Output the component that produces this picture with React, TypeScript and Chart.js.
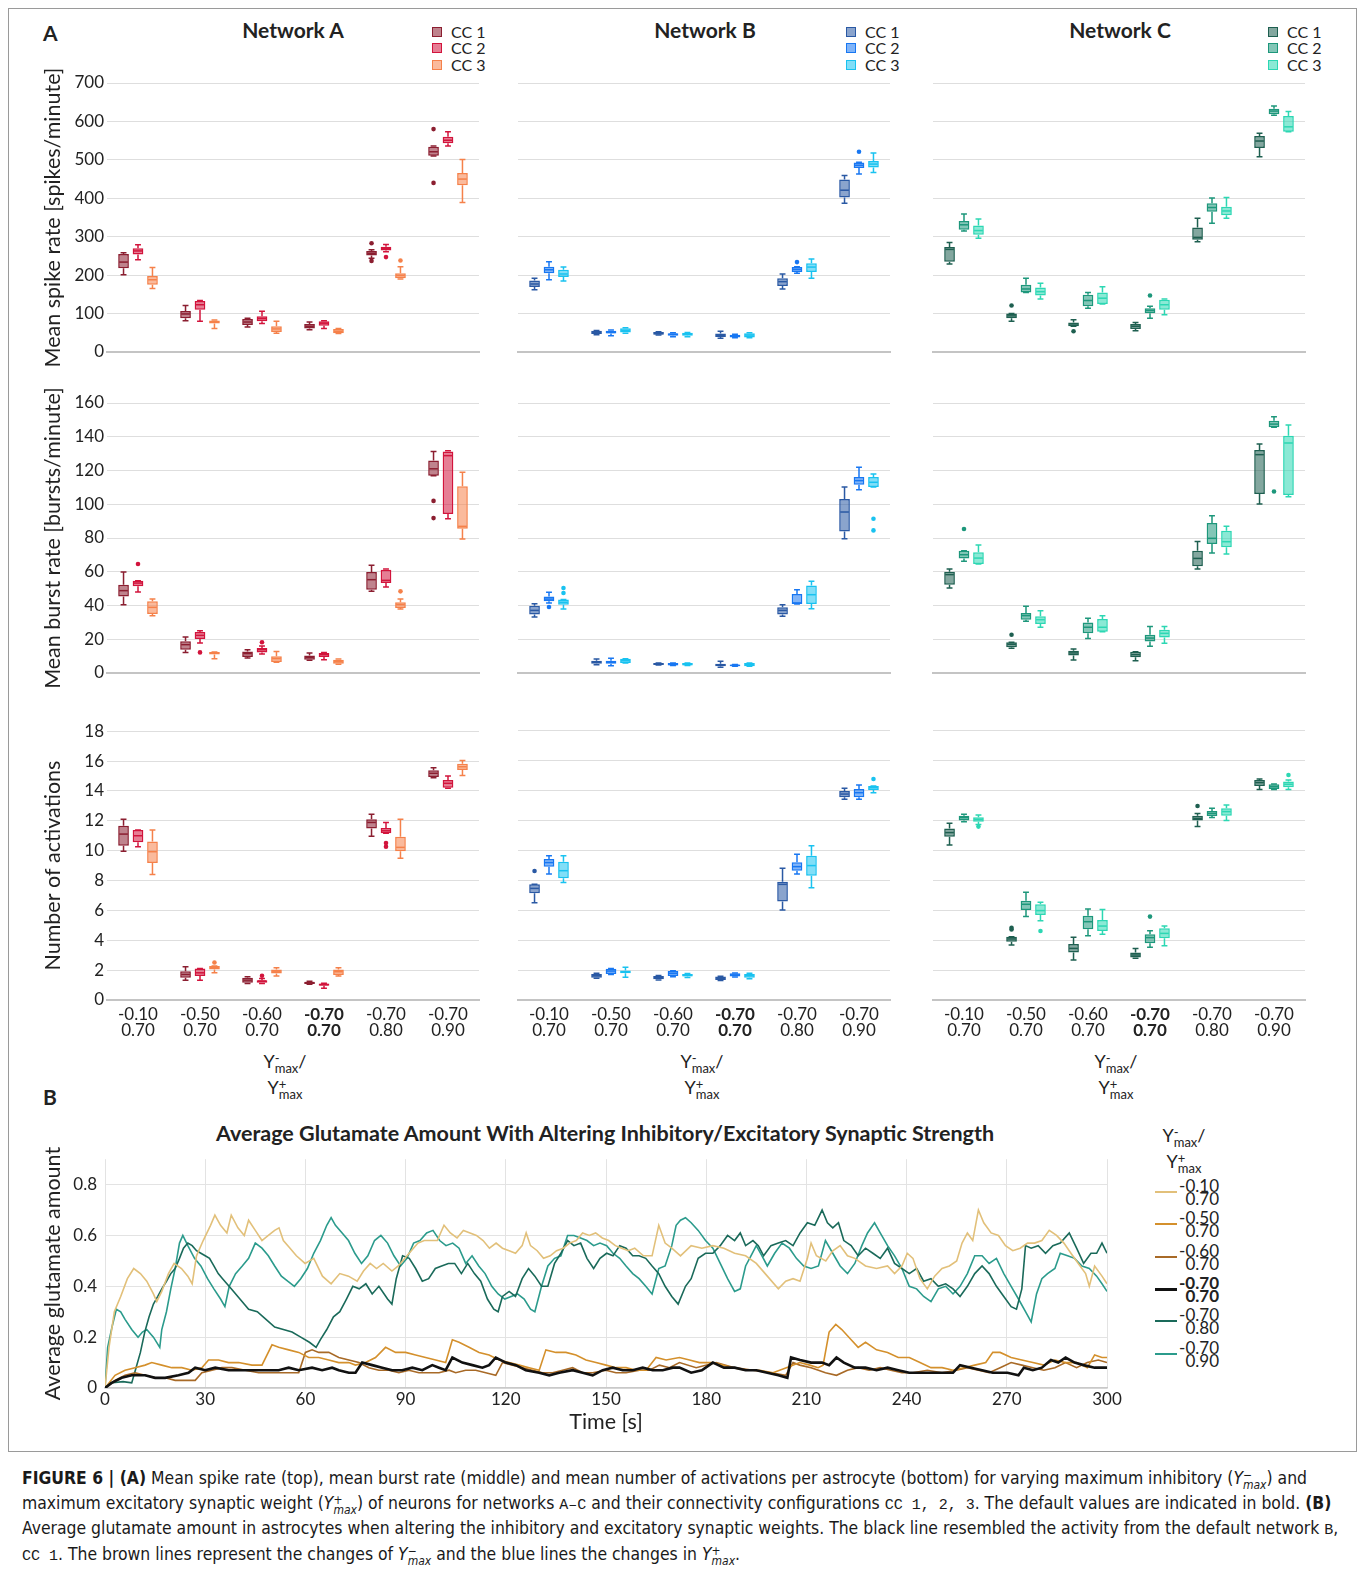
import React, { useEffect, useRef } from "react";
import { Chart, registerables } from "chart.js";

Chart.register(...registerables);

const FONT = "Lato, 'Open Sans', 'DejaVu Sans', sans-serif";
const TXT = "#222222";
const CAP_FONT = "'Liberation Sans Narrow', 'Arial Narrow', 'DejaVu Sans Condensed', sans-serif";
const MONO = "'Liberation Mono', 'DejaVu Sans Mono', monospace";

// ---------- categories / labels ----------
const groupLabels = [["-0.10", "0.70"], ["-0.50", "0.70"], ["-0.60", "0.70"], ["-0.70", "0.70"], ["-0.70", "0.80"], ["-0.70", "0.90"]];
const boldGroup = 3;
const ccNames = ["CC 1", "CC 2", "CC 3"];
const networkNames = ["Network A", "Network B", "Network C"];
const rowTitles = ["Mean spike rate [spikes/minute]", "Mean burst rate [bursts/minute]", "Number of activations"];
const rowMax = [700, 160, 18];
const rowStep = [100, 20, 2];

// ---------- box data: [min, q1, median, q3, max, outliers] ----------
const spikeA_CC1 = [[201,218,234,255,258],[81,88,99,107,121],[65,70,78,86,88],[58,61,67,73,78],[244,251,257,263,266,[283,237]],[510,511,521,534,536,[580,440]]];
const spikeA_CC2 = [[240,254,263,270,279],[80,110,123,133,134],[74,80,87,93,106],[61,68,75,80,81],[261,264,269,274,280,[247]],[536,543,551,560,573]];
const spikeA_CC3 = [[165,175,188,198,220],[61,74,78,82,83],[49,52,60,67,80],[48,49,54,60,61],[190,192,199,205,222,[238]],[389,434,450,466,501]];

const spikeB_CC1 = [[162,169,177,186,192],[45,47,51,55,56],[44,45,48,52,53],[36,39,43,48,54],[164,172,183,192,203],[387,402,421,449,459]];
const spikeB_CC2 = [[188,205,214,222,235],[42,48,51,55,57],[40,42,46,49,50],[37,38,42,45,46],[205,208,215,221,222,[234]],[463,479,486,493,494,[521]]];
const spikeB_CC3 = [[185,195,203,214,221],[49,51,56,62,63],[40,42,46,50,51],[37,38,44,49,50],[192,208,221,231,242],[467,480,489,497,518]];

const spikeC_CC1 = [[229,235,267,273,285],[80,88,94,100,100,[121]],[67,67,73,77,84,[54]],[55,60,67,73,77],[287,292,298,324,348],[508,531,549,562,569]];
const spikeC_CC2 = [[315,318,331,341,359],[155,155,164,175,192],[114,119,134,149,155],[88,101,108,114,119,[147]],[335,365,376,387,401],[616,619,627,633,640]];
const spikeC_CC3 = [[296,305,316,329,346],[138,147,157,168,179],[125,125,140,155,170],[97,110,123,136,138],[348,356,367,378,402],[573,573,586,614,626]];

const burstA_CC1 = [[40.5,45.4,48.8,52.3,59.8],[12.2,13.8,16.8,18.8,21.3],[8.9,9.5,11.5,12.8,13.8],[7.5,7.9,9.3,10.3,11.9],[48.4,49.4,55.3,59.8,63.8],[116.9,116.9,121,126,131.3,[102,91.8]]];
const burstA_CC2 = [[48,51.4,53.3,54.7,54.7,[64.6]],[17.8,20.1,22.3,24.3,25,[12.2]],[11.3,12.2,13.8,14.8,16,[18.2]],[7.9,9.5,10.9,11.9,12.2],[51,53.3,54.9,61.2,61.6],[91.4,94.2,128.8,131.3,131.7]];
const burstA_CC3 = [[34,35,38.9,42.5,43.8],[8.5,10.9,11.9,12.4,12.4],[6.3,6.5,8.5,9.9,12.8],[5.2,5.5,6.7,7.9,8.3],[37.9,38.5,40.5,42,43.8,[48.4]],[79.4,85.5,86.9,110.6,118.9]];

const burstB_CC1 = [[33.2,34.6,37.1,39.9,41.1],[4.9,5.5,6.5,7.3,8.3],[4.7,4.7,5.3,5.9,5.9],[3.4,4,4.7,5.5,6.9],[33.6,34.6,37.1,38.9,40.5],[79.6,83.9,95.4,103.1,110.2]];
const burstB_CC2 = [[41.5,42.5,43.8,45.4,47.8,[39.1]],[4.3,5.5,6.5,7.3,8.7],[4.4,4.4,5.1,6,6],[4,4,4.5,5.1,5.1],[40.9,40.9,41.5,46.8,49.4],[108.6,111.6,114,116.1,122]];
const burstB_CC3 = [[37.9,40.5,41.9,43.5,43.5,[50.4,47.4]],[5.9,5.9,7.3,8.5,8.5],[4.4,4.4,5.1,6,6],[4,4,4.9,5.9,5.9],[38.1,40.9,46.4,51.8,54.3],[110.2,110.2,113,116.1,117.9,[91.4,84.5]]];

const burstC_CC1 = [[50.4,52.3,58.3,60,61.6],[14.6,15.2,17,18.2,18.2,[22.7]],[7.7,10.3,11.9,13.2,14.2],[7.3,9.3,10.9,12.6,12.6],[61.6,63.2,67.9,72.5,78],[100.1,106.1,129.4,132.1,135.7]];
const burstC_CC2 = [[66.2,67.9,70.1,72.5,72.5,[85.3]],[30.6,31.6,34,35.5,39.5],[20.5,23.5,27.1,30,32.4],[15.8,18.6,20.7,22.7,27.5],[71.1,76.4,79.8,88.9,93.2],[145.6,145.6,147.5,149.5,151.9,[107.6]]];
const burstC_CC3 = [[64.6,64.6,68.1,71.5,75.8],[27.1,29,31.6,33.6,36.9],[24.5,24.5,27.1,32,34],[17.6,21.1,23.5,25.7,27.5],[70.5,74.5,77.8,84.3,86.9],[104.5,105.5,136.3,140.6,147]];

const actA_CC1 = [[9.96,10.33,11.11,11.67,12.1],[1.33,1.49,1.71,1.93,2.22],[1.1,1.16,1.33,1.49,1.55],[1.05,1.07,1.16,1.22,1.25],[10.96,11.49,11.89,12.11,12.44],[14.89,14.93,15.18,15.38,15.56]];
const actA_CC2 = [[10.27,10.56,11,11.38,11.38],[1.33,1.6,1.82,2.11,2.11],[1.1,1.16,1.27,1.33,1.44,[1.62]],[0.78,0.96,1.03,1.1,1.13],[11.16,11.16,11.33,11.51,11.89,[10.51,10.27]],[14.18,14.22,14.51,14.73,15]];
const actA_CC3 = [[8.4,9.18,9.93,10.62,11.38],[1.82,2.04,2.16,2.27,2.27,[2.51]],[1.6,1.78,1.93,2.04,2.16],[1.6,1.67,1.89,2.04,2.16],[9.49,9.96,10.22,10.93,12.11],[15.04,15.4,15.62,15.82,16.04]];

const actB_CC1 = [[6.49,7.11,7.44,7.71,7.71,[8.6]],[1.45,1.49,1.62,1.73,1.78],[1.33,1.38,1.49,1.6,1.64],[1.3,1.33,1.44,1.56,1.58],[6,6.56,7.71,7.89,8.78],[13.38,13.51,13.73,13.93,14.11]];
const actB_CC2 = [[8.4,8.89,9.16,9.4,9.62],[1.7,1.73,1.93,2.09,2.1],[1.55,1.6,1.78,1.93,1.95],[1.53,1.56,1.67,1.78,1.8],[8.4,8.62,8.89,9.18,9.71],[13.38,13.51,13.82,14.07,14.33]];
const actB_CC3 = [[7.84,8.11,8.62,9.22,9.62],[1.51,1.78,1.87,1.96,2.18],[1.5,1.56,1.64,1.73,1.76],[1.42,1.49,1.62,1.73,1.78],[7.49,8.29,8.96,9.62,10.29],[13.82,14,14.16,14.27,14.27,[14.73]]];

const actC_CC1 = [[10.33,10.89,11.16,11.44,11.78],[3.67,3.89,4.07,4.22,4.22,[4.82,4.7]],[2.67,3.16,3.44,3.73,4.18],[2.78,2.84,3,3.16,3.44],[11.56,11.96,12.11,12.29,12.44,[12.93]],[14.04,14.27,14.49,14.67,14.73]];
const actC_CC2 = [[11.89,11.96,12.16,12.29,12.38],[5.56,6,6.38,6.62,7.18],[4.29,4.71,5.22,5.62,6.07],[3.51,3.78,4.16,4.38,4.62,[5.56]],[12.16,12.27,12.44,12.6,12.78],[14.04,14.07,14.22,14.38,14.4]];
const actC_CC3 = [[11.7,11.89,12.04,12.18,12.33,[11.56]],[5.29,5.67,5.96,6.38,6.51,[4.6]],[4.38,4.6,4.93,5.33,6.04],[3.62,4.11,4.44,4.78,4.93],[11.96,12.29,12.56,12.78,13],[14.04,14.18,14.38,14.56,14.67,[15]]];

// ---------- glutamate time series: [time s, amount] ----------
const glu_m010_070 = [[0,0],[1.2,0.16],[2.8,0.3],[4.7,0.36],[6.7,0.43],[8.6,0.47],[10.6,0.45],[12.5,0.42],[14.5,0.37],[15.5,0.34],[17,0.38],[19,0.45],[20.7,0.49],[22.9,0.47],[24.8,0.44],[26.1,0.41],[27.4,0.52],[29.4,0.58],[31.6,0.64],[32.9,0.68],[34.6,0.64],[36.5,0.61],[37.8,0.68],[39.8,0.63],[41.7,0.6],[43,0.66],[45,0.62],[47,0.58],[48.9,0.6],[50.8,0.62],[52.1,0.63],[53.4,0.58],[55.4,0.55],[57.3,0.52],[59.9,0.49],[62.5,0.51],[65.1,0.44],[67.7,0.41],[70.3,0.45],[72.9,0.44],[75.5,0.42],[77.4,0.46],[79.4,0.49],[81.3,0.47],[83.3,0.49],[85.9,0.46],[87.8,0.48],[89.8,0.51],[91.7,0.54],[93.7,0.57],[95.6,0.58],[97.6,0.58],[99.5,0.58],[101.5,0.64],[103.4,0.61],[105.4,0.59],[107.3,0.62],[109.3,0.61],[111.2,0.6],[113.2,0.58],[115.1,0.55],[117.1,0.57],[119,0.55],[121,0.54],[122.9,0.53],[124.9,0.56],[126.1,0.61],[127.4,0.56],[129.4,0.54],[131.3,0.51],[133.3,0.52],[135.2,0.54],[137.2,0.55],[139.1,0.57],[141.1,0.58],[143,0.61],[145,0.6],[146.9,0.61],[148.9,0.59],[150.8,0.58],[152.8,0.56],[154.7,0.55],[156.7,0.54],[158.6,0.55],[161.2,0.52],[163.8,0.52],[165.8,0.64],[167.7,0.57],[169.7,0.55],[172.3,0.52],[175.5,0.56],[178.7,0.55],[182,0.56],[185.3,0.55],[188.5,0.53],[191.8,0.52],[195,0.49],[198.3,0.44],[201.6,0.39],[203.8,0.42],[206,0.43],[208.1,0.42],[210.3,0.51],[211.4,0.57],[213,0.52],[215.8,0.5],[217.9,0.54],[220.1,0.56],[222.3,0.52],[224.5,0.51],[227.7,0.48],[231,0.47],[234.3,0.48],[236.4,0.45],[238.6,0.48],[240.2,0.53],[241.9,0.51],[244,0.43],[246.2,0.39],[248.4,0.44],[250.6,0.47],[252.8,0.48],[255,0.5],[256.6,0.57],[258.2,0.61],[259.8,0.58],[261.5,0.7],[263.1,0.65],[265.3,0.61],[267.5,0.6],[269.6,0.56],[271.8,0.54],[274,0.55],[276.2,0.57],[278.3,0.57],[280.5,0.58],[282.7,0.62],[284.9,0.6],[287.1,0.57],[289.2,0.53],[291.4,0.49],[293.6,0.45],[294.7,0.4],[296.3,0.48],[298.5,0.44],[300,0.41]];
const glu_m050_070 = [[0,0],[3,0.05],[6,0.07],[9,0.08],[12,0.09],[14,0.1],[17,0.09],[20,0.08],[23,0.08],[26,0.07],[29,0.08],[31,0.11],[34,0.11],[37,0.1],[40,0.1],[44,0.09],[47,0.09],[50,0.17],[52,0.16],[55,0.15],[58,0.14],[61,0.12],[64,0.12],[67,0.11],[70,0.1],[73,0.1],[75,0.09],[78,0.1],[81,0.12],[84,0.16],[87,0.14],[90,0.14],[93,0.13],[96,0.12],[99,0.11],[102,0.1],[104,0.19],[106,0.18],[109,0.16],[112,0.14],[115,0.13],[118,0.11],[121,0.1],[124,0.09],[127,0.08],[130,0.07],[132,0.15],[135,0.14],[138,0.14],[141,0.13],[144,0.11],[147,0.1],[150,0.09],[153,0.08],[156,0.08],[159,0.07],[162,0.07],[165,0.12],[168,0.11],[172,0.12],[175,0.11],[178,0.1],[182,0.1],[185,0.09],[188,0.08],[192,0.07],[196,0.07],[200,0.06],[204,0.08],[208,0.1],[211,0.09],[213.5,0.08],[215,0.09],[216.8,0.22],[218.8,0.25],[220.6,0.23],[223.4,0.19],[225.5,0.16],[227.7,0.18],[231,0.15],[234.3,0.14],[237.5,0.12],[240.8,0.12],[244,0.1],[247.3,0.08],[250.6,0.08],[253.9,0.07],[257.1,0.08],[260.4,0.09],[263.7,0.1],[265.8,0.14],[268,0.14],[271.3,0.12],[274.5,0.11],[277.8,0.1],[281.1,0.09],[284.4,0.11],[287.6,0.1],[290.9,0.1],[294.1,0.08],[296.3,0.13],[298.5,0.12],[300,0.12]];
const glu_m060_070 = [[0,0],[3,0.03],[6,0.05],[9,0.06],[12,0.05],[15,0.04],[18,0.04],[21,0.03],[24,0.03],[27,0.03],[29,0.06],[32,0.07],[35,0.08],[38,0.08],[42,0.07],[46,0.06],[50,0.06],[54,0.06],[58,0.06],[60,0.14],[62,0.15],[64,0.14],[67,0.14],[70,0.12],[73,0.11],[76,0.1],[79,0.08],[82,0.07],[85,0.07],[88,0.06],[91,0.07],[94,0.06],[97,0.06],[100,0.06],[103,0.07],[105,0.06],[108,0.07],[111,0.07],[114,0.06],[117,0.05],[119,0.1],[122,0.09],[125,0.08],[128,0.07],[131,0.06],[134,0.06],[137,0.07],[140,0.08],[143,0.06],[146,0.06],[150,0.07],[153,0.06],[156,0.06],[160,0.07],[163,0.07],[166,0.09],[169,0.08],[172,0.1],[177,0.08],[183,0.1],[188.5,0.08],[194,0.07],[199.4,0.06],[203.8,0.05],[206,0.1],[208,0.09],[211.4,0.08],[213.6,0.07],[215.7,0.06],[219,0.05],[222.3,0.07],[225.5,0.08],[228.8,0.07],[232.1,0.08],[235.3,0.07],[238.6,0.06],[241.9,0.06],[246.2,0.07],[250.6,0.06],[254.9,0.07],[258.2,0.08],[261.5,0.07],[264.7,0.06],[268,0.08],[271.3,0.1],[274.5,0.09],[277.8,0.08],[281.1,0.07],[284.4,0.08],[287.6,0.1],[290.9,0.08],[294.1,0.1],[297.4,0.11],[300,0.1]];
const glu_m070_070 = [[0,0],[2,0.02],[5,0.04],[8,0.05],[12,0.05],[15,0.04],[18,0.04],[22,0.05],[25,0.06],[27,0.08],[30,0.07],[33,0.08],[37,0.07],[40,0.07],[44,0.07],[48,0.07],[52,0.07],[55,0.08],[58,0.07],[62,0.08],[65,0.07],[68,0.08],[70,0.07],[73,0.06],[75,0.06],[77,0.1],[80,0.09],[83,0.08],[86,0.07],[89,0.07],[92,0.08],[95,0.07],[98,0.09],[100,0.08],[102,0.07],[104,0.12],[107,0.1],[110,0.09],[113,0.08],[115,0.09],[117,0.12],[120,0.1],[123,0.09],[126,0.07],[130,0.06],[133,0.05],[136,0.06],[140,0.07],[143,0.06],[146,0.05],[149,0.07],[152,0.08],[155,0.07],[158,0.07],[161,0.08],[164,0.07],[167,0.07],[170,0.08],[172,0.08],[175.5,0.06],[178.7,0.07],[182,0.1],[185.3,0.08],[188.5,0.08],[191.8,0.07],[195,0.07],[198.3,0.06],[201.6,0.05],[204.3,0.04],[205.4,0.12],[208.1,0.11],[211.4,0.1],[214.7,0.1],[216.8,0.09],[219,0.12],[221.2,0.1],[224.5,0.08],[227.7,0.08],[231,0.07],[234.3,0.08],[237.5,0.07],[240.8,0.06],[244,0.06],[247.3,0.06],[250.6,0.06],[253.9,0.06],[256,0.09],[259.3,0.08],[262.6,0.07],[265.8,0.06],[270.2,0.06],[273.5,0.05],[275.1,0.08],[277.8,0.07],[280.5,0.08],[283.2,0.11],[285.4,0.1],[287.6,0.12],[290.3,0.1],[293,0.09],[296.3,0.08],[298.5,0.08],[300,0.08]];
const glu_m070_080 = [[0,0],[1.5,0.02],[5.4,0.025],[8,0.02],[9.3,0.08],[10.6,0.14],[11.9,0.22],[13.2,0.28],[14.5,0.33],[15.8,0.36],[17,0.39],[18.4,0.42],[19.7,0.45],[21,0.47],[22.3,0.51],[23.5,0.55],[24.8,0.57],[26.1,0.56],[27.4,0.54],[28.7,0.53],[30,0.52],[31.3,0.51],[32.6,0.48],[33.9,0.45],[35.2,0.43],[37.8,0.39],[40.4,0.35],[43,0.31],[45.6,0.3],[48.2,0.27],[50.8,0.24],[53.4,0.23],[56,0.22],[58.6,0.2],[61.2,0.18],[63.2,0.16],[64.5,0.19],[66.4,0.23],[68.4,0.28],[70.3,0.3],[72.3,0.35],[74.2,0.4],[76.1,0.39],[78.1,0.41],[80,0.37],[82,0.4],[84.6,0.35],[85.9,0.33],[87.2,0.43],[89.1,0.52],[91.1,0.51],[93,0.47],[95,0.42],[96.9,0.43],[98.9,0.47],[100.8,0.48],[102.8,0.49],[104.7,0.49],[106.7,0.45],[108.6,0.49],[110.6,0.45],[112.5,0.42],[114.5,0.35],[116.4,0.31],[117.7,0.3],[119,0.36],[121,0.38],[122.9,0.36],[124.9,0.43],[126.8,0.47],[128.7,0.44],[130.7,0.4],[132.6,0.4],[134.6,0.49],[136.5,0.53],[138.5,0.58],[140.4,0.56],[142.4,0.57],[144.3,0.51],[146.3,0.47],[148.2,0.51],[150.2,0.53],[152.1,0.52],[154.1,0.56],[156,0.55],[158,0.52],[159.9,0.52],[161.9,0.51],[163.8,0.48],[165.8,0.45],[167.7,0.4],[169.7,0.36],[171.6,0.33],[173.8,0.4],[175.5,0.43],[177.6,0.51],[179.8,0.53],[182,0.53],[184.2,0.56],[186.4,0.6],[188.5,0.58],[190.2,0.61],[191.8,0.56],[194,0.58],[195.6,0.56],[197.2,0.52],[199.4,0.56],[201.6,0.57],[203.8,0.58],[206,0.56],[208.1,0.61],[210.3,0.65],[212.5,0.64],[214.7,0.7],[216.3,0.65],[217.9,0.63],[219.6,0.65],[221.2,0.58],[223.4,0.56],[225.5,0.52],[227.7,0.55],[229.9,0.53],[232.1,0.51],[234.3,0.55],[236.4,0.49],[238.6,0.47],[240.8,0.45],[243,0.47],[245.1,0.42],[247.3,0.43],[249.5,0.4],[251.7,0.41],[253.9,0.39],[256,0.36],[258.2,0.4],[260.4,0.45],[262.6,0.48],[264.7,0.45],[266.9,0.4],[269.1,0.36],[271.3,0.32],[272.9,0.31],[274.5,0.39],[275.6,0.56],[277.3,0.55],[279.4,0.56],[281.6,0.53],[283.8,0.56],[286,0.57],[288.7,0.61],[290.9,0.55],[293,0.49],[295.2,0.53],[296.9,0.53],[298.5,0.57],[300,0.53]];
const glu_m070_090 = [[0,0],[0.8,0.16],[2.1,0.24],[3.4,0.31],[4.7,0.3],[6,0.27],[8,0.23],[9.9,0.2],[11.2,0.22],[12.5,0.23],[14.5,0.2],[16.4,0.16],[17,0.23],[18.4,0.3],[19.7,0.39],[21,0.47],[22.3,0.57],[23.3,0.6],[24.8,0.56],[26.8,0.51],[28.7,0.48],[30.7,0.43],[32.6,0.39],[34.6,0.35],[35.9,0.32],[37.2,0.4],[39.1,0.45],[41.1,0.48],[43,0.51],[45,0.57],[47,0.55],[48.9,0.52],[50.8,0.48],[52.8,0.44],[54.7,0.42],[56.7,0.4],[58.6,0.43],[60.6,0.47],[62.5,0.53],[64.5,0.58],[66.4,0.64],[67.7,0.67],[69,0.64],[71,0.61],[72.9,0.58],[74.8,0.53],[76.8,0.49],[78.7,0.52],[80.7,0.58],[82.6,0.6],[84.6,0.57],[86.5,0.52],[88.5,0.48],[90.4,0.51],[92.4,0.57],[94.3,0.58],[96.3,0.61],[98.2,0.62],[100.2,0.58],[102.1,0.56],[104.1,0.57],[106,0.55],[108,0.49],[109.9,0.52],[111.9,0.48],[113.8,0.45],[115.8,0.4],[117.7,0.37],[119.7,0.35],[121.6,0.36],[123.5,0.37],[125.5,0.35],[127.4,0.31],[128.7,0.3],[130.7,0.4],[132.6,0.48],[134.6,0.51],[136.5,0.52],[138.5,0.6],[140.4,0.6],[142.4,0.59],[144.3,0.58],[146.3,0.56],[148.2,0.57],[150.2,0.56],[152.1,0.53],[154.1,0.51],[156,0.48],[158,0.45],[159.9,0.43],[161.9,0.4],[163.8,0.37],[165.8,0.47],[167.7,0.48],[169.7,0.56],[171,0.64],[172.3,0.66],[173.8,0.67],[175.5,0.65],[177.6,0.62],[179.8,0.58],[182,0.55],[184.2,0.49],[186.4,0.43],[188.5,0.38],[190.2,0.39],[191.8,0.48],[193.4,0.52],[195,0.56],[196.7,0.52],[198.3,0.48],[200.5,0.53],[202.7,0.57],[204.9,0.55],[207,0.51],[209.2,0.48],[211.4,0.47],[213.6,0.48],[215.7,0.58],[217.9,0.53],[220.1,0.48],[222.3,0.45],[224.5,0.49],[226.6,0.56],[228.3,0.61],[230.4,0.65],[232.1,0.61],[234.3,0.56],[236.4,0.52],[238.6,0.47],[240.8,0.4],[243,0.39],[245.1,0.36],[247.3,0.34],[249.5,0.39],[251.7,0.4],[253.9,0.37],[256,0.4],[258.2,0.45],[260.4,0.52],[262.6,0.52],[264.7,0.49],[266.9,0.51],[269.1,0.45],[271.3,0.4],[273.5,0.35],[275.6,0.3],[277.3,0.26],[278.9,0.37],[280.5,0.43],[282.2,0.45],[284.4,0.47],[286,0.53],[288.2,0.52],[290.3,0.51],[292.5,0.48],[294.7,0.47],[296.9,0.44],[298.5,0.41],[300,0.38]];

const gluSeries = [glu_m010_070, glu_m050_070, glu_m060_070, glu_m070_070, glu_m070_080, glu_m070_090];
const gluColors = ["#e2c07a", "#d4902c", "#a86a27", "#111111", "#1a6a5a", "#2b9b8c"];
const gluWidths = [1.6, 1.6, 1.6, 2.6, 1.6, 1.6];
const timeTicks = { min: 0, max: 300, step: 30 };
const gluTicks = { min: 0, max: 0.9, step: 0.2 };

// ---------- colours ----------
const netStrokes = [
  ["#8b1e30", "#d2143c", "#f5814a"],
  ["#2a59a4", "#1877f2", "#19c2f0"],
  ["#1e5f50", "#1d977b", "#2cd7b3"],
];
const statsByNet = [
  [[spikeA_CC1, spikeA_CC2, spikeA_CC3], [burstA_CC1, burstA_CC2, burstA_CC3], [actA_CC1, actA_CC2, actA_CC3]],
  [[spikeB_CC1, spikeB_CC2, spikeB_CC3], [burstB_CC1, burstB_CC2, burstB_CC3], [actB_CC1, actB_CC2, actB_CC3]],
  [[spikeC_CC1, spikeC_CC2, spikeC_CC3], [burstC_CC1, burstC_CC2, burstC_CC3], [actC_CC1, actC_CC2, actC_CC3]],
];

function fillOf(hex: string, a = 0.55) {
  const r = parseInt(hex.slice(1, 3), 16), g = parseInt(hex.slice(3, 5), 16), b = parseInt(hex.slice(5, 7), 16);
  return `rgba(${r},${g},${b},${a})`;
}

// ---------- layout ----------
const colLeft = [40, 514, 929];
const colWidth = [443, 380, 380];
const colYW = [67, 4, 4];
const rowTop = [53, 373, 718];
const rowPadT = [30, 30, 12];
const rowHeight = [321, 322, 324];
const rowXH = [0, 0, 40];
const rowPadB = [22, 22, 2];
const titleCx = [293, 705, 1120];
const legendX = [432, 846, 1268];
const axisLabelCx = [285, 702, 1116];

const boxPlugin = {
  id: "boxWhisker",
  afterDatasetsDraw(chart: any) {
    const ctx = chart.ctx;
    const ys = chart.scales.y;
    chart.data.datasets.forEach((ds: any, di: number) => {
      const meta = chart.getDatasetMeta(di);
      meta.data.forEach((el: any, i: number) => {
        const s = ds.stats[i];
        if (!s) return;
        const [mn, q1, md, q3, mx] = s;
        const out = s[5] || [];
        const x = el.x, w = el.width;
        const cap = w * 0.55;
        ctx.save();
        ctx.strokeStyle = ds.borderColor;
        ctx.lineWidth = 1.5;
        ctx.beginPath();
        ctx.moveTo(x, ys.getPixelForValue(q3)); ctx.lineTo(x, ys.getPixelForValue(mx));
        ctx.moveTo(x - cap / 2, ys.getPixelForValue(mx)); ctx.lineTo(x + cap / 2, ys.getPixelForValue(mx));
        ctx.moveTo(x, ys.getPixelForValue(q1)); ctx.lineTo(x, ys.getPixelForValue(mn));
        ctx.moveTo(x - cap / 2, ys.getPixelForValue(mn)); ctx.lineTo(x + cap / 2, ys.getPixelForValue(mn));
        ctx.stroke();
        ctx.beginPath();
        ctx.moveTo(x - w / 2 + 1, ys.getPixelForValue(md)); ctx.lineTo(x + w / 2 - 1, ys.getPixelForValue(md));
        ctx.stroke();
        ctx.fillStyle = ds.borderColor;
        out.forEach((v: number) => {
          ctx.beginPath();
          ctx.arc(x, ys.getPixelForValue(v), 2.3, 0, Math.PI * 2);
          ctx.fill();
        });
        ctx.restore();
      });
    });
  },
};

function boxConfig(net: number, row: number) {
  const showY = net === 0;
  const showX = row === 2;
  const strokes = netStrokes[net];
  return {
    type: "bar",
    data: {
      labels: groupLabels,
      datasets: statsByNet[net][row].map((st: any[], k: number) => ({
        label: ccNames[k],
        data: st.map((b: any[]) => [b[1], b[3]]),
        stats: st,
        backgroundColor: fillOf(strokes[k]),
        borderColor: strokes[k],
        borderWidth: 1.5,
        borderSkipped: false,
        categoryPercentage: 0.7,
        barPercentage: 0.74,
      })),
    },
    options: {
      animation: false,
      responsive: false,
      devicePixelRatio: 1,
      layout: { padding: { top: rowPadT[row], right: 4, bottom: rowPadB[row], left: 0 } },
      plugins: { legend: { display: false }, tooltip: { enabled: false } },
      scales: {
        x: {
          ticks: {
            display: showX,
            color: TXT,
            autoSkip: false,
            maxRotation: 0,
            padding: 7,
            font: (c: any) => ({ family: FONT, size: 17, weight: c.index === boldGroup ? "bold" : "normal", lineHeight: 0.92 }),
          },
          grid: { display: false, drawTicks: false },
          border: { display: true, color: "#c4c4c4", width: 2 },
          afterFit: (s: any) => { s.height = rowXH[row]; },
        },
        y: {
          min: 0,
          max: rowMax[row],
          ticks: { stepSize: rowStep[row], display: showY, color: TXT, padding: 3, font: { family: FONT, size: 17 } },
          grid: { color: "#dedede", lineWidth: 1, drawTicks: false },
          border: { display: false },
          title: { display: showY, text: rowTitles[row], color: TXT, font: { family: FONT, size: 21.5 }, padding: { top: 0, bottom: 0 } },
          afterFit: (s: any) => { s.width = colYW[net]; },
        },
      },
    },
    plugins: [boxPlugin],
  };
}

function lineConfig() {
  return {
    type: "line",
    data: {
      datasets: gluSeries.map((pts, i) => ({
        label: groupLabels[i].join(" / "),
        data: pts.map((p) => ({ x: p[0], y: p[1] })),
        borderColor: gluColors[i],
        borderWidth: gluWidths[i],
        pointRadius: 0,
        tension: 0,
        fill: false,
        order: i === 3 ? 0 : 1,
      })),
    },
    options: {
      animation: false,
      responsive: false,
      devicePixelRatio: 1,
      layout: { padding: { top: 12, right: 20, bottom: 2, left: 0 } },
      plugins: { legend: { display: false }, tooltip: { enabled: false } },
      scales: {
        x: {
          type: "linear",
          min: timeTicks.min,
          max: timeTicks.max,
          ticks: { stepSize: timeTicks.step, color: TXT, font: { family: FONT, size: 17 }, padding: 1, maxRotation: 0 },
          grid: { color: "#e3e3e3", drawTicks: false },
          border: { display: true, color: "#c9c9c9", width: 1.5 },
          title: { display: true, text: "Time [s]", color: TXT, font: { family: FONT, size: 21.5 }, padding: { top: 0, bottom: 3 } },
          afterFit: (s: any) => { s.height = 50; },
        },
        y: {
          min: gluTicks.min,
          max: gluTicks.max,
          ticks: { stepSize: gluTicks.step, includeBounds: false, color: TXT, font: { family: FONT, size: 17 }, padding: 8 },
          grid: { color: "#e3e3e3", drawTicks: false },
          border: { display: false },
          title: { display: true, text: "Average glutamate amount", color: TXT, font: { family: FONT, size: 21.5 }, padding: { top: 0, bottom: 0 } },
          afterFit: (s: any) => { s.width = 65; },
        },
      },
    },
  };
}

function ChartCanvas({ config, left, top, width, height }: any) {
  const ref = useRef<HTMLCanvasElement>(null);
  useEffect(() => {
    const chart = new Chart(ref.current as HTMLCanvasElement, config);
    return () => chart.destroy();
  }, []);
  return <canvas ref={ref} width={width} height={height} style={{ position: "absolute", left, top, width, height }} />;
}

function YSym({ sign, size, italic }: any) {
  const small = Math.round(size * 0.72);
  const st = italic ? "italic" : "normal";
  return (
    <span style={{ whiteSpace: "nowrap" }}>
      <span style={{ fontStyle: st }}>Y</span>
      <span style={{ display: "inline-block", verticalAlign: -Math.round(size * 0.3), lineHeight: 1, fontSize: small, fontStyle: st, textAlign: "left" }}>
        <span style={{ display: "block", height: Math.round(size * 0.45), lineHeight: Math.round(size * 0.45) + "px" }}>{sign}</span>
        <span style={{ display: "block" }}>max</span>
      </span>
    </span>
  );
}

function YLabel({ cx, top }: any) {
  return (
    <div style={{ position: "absolute", left: cx - 50, top, width: 100, textAlign: "center", fontSize: 18, lineHeight: "24px", color: TXT, fontFamily: FONT }}>
      <div><YSym sign="-" size={18} />/</div>
      <div><YSym sign="+" size={18} /></div>
    </div>
  );
}

export default function App() {
  const capLine: any = { position: "absolute", left: 22, fontFamily: CAP_FONT, fontSize: 17.4, lineHeight: "20px", whiteSpace: "nowrap", color: "#1a1a1a" };
  const mono: any = { fontFamily: MONO, fontSize: 15 };
  return (
    <div style={{ position: "absolute", left: 0, top: 0, width: 1362, height: 1575, background: "#fff", fontFamily: FONT, color: TXT, overflow: "hidden" }}>
      <div style={{ position: "absolute", left: 8, top: 8, width: 1349, height: 1444, border: "1px solid #9a9a9a", boxSizing: "border-box" }} />
      <div style={{ position: "absolute", left: 43, top: 20, fontWeight: 700, fontSize: 21 }}>A</div>

      {networkNames.map((n, c) => (
        <div key={n} style={{ position: "absolute", left: titleCx[c] - 100, width: 200, top: 17, textAlign: "center", fontWeight: 700, fontSize: 21 }}>{n}</div>
      ))}

      {networkNames.map((n, c) => (
        <div key={"lg" + n}>
          {ccNames.map((cc, k) => (
            <div key={cc} style={{ position: "absolute", left: legendX[c], top: 23.5 + k * 16.7, height: 16, display: "flex", alignItems: "center", fontSize: 16, lineHeight: "16px" }}>
              <span style={{ display: "inline-block", width: 8, height: 8, border: `1.5px solid ${netStrokes[c][k]}`, background: fillOf(netStrokes[c][k]), marginRight: 9 }} />
              <span>{cc}</span>
            </div>
          ))}
        </div>
      ))}

      {[0, 1, 2].map((row) =>
        [0, 1, 2].map((net) => (
          <ChartCanvas key={row + "-" + net} config={boxConfig(net, row)} left={colLeft[net]} top={rowTop[row]} width={colWidth[net]} height={rowHeight[row]} />
        ))
      )}

      {axisLabelCx.map((cx, i) => <YLabel key={"yl" + i} cx={cx} top={1049} />)}

      <div style={{ position: "absolute", left: 43, top: 1084, fontWeight: 700, fontSize: 21 }}>B</div>
      <div style={{ position: "absolute", left: 155, width: 900, top: 1120, textAlign: "center", fontWeight: 700, fontSize: 21.5, whiteSpace: "nowrap" }}>
        Average Glutamate Amount With Altering Inhibitory/Excitatory Synaptic Strength
      </div>
      <ChartCanvas config={lineConfig()} left={40} top={1141} width={1087} height={299} />

      <YLabel cx={1184} top={1123} />
      {groupLabels.map((lab, i) => (
        <div key={"gl" + i}>
          <div style={{ position: "absolute", left: 1155, top: Math.round(1191 + i * 32.3), width: 22, height: i === boldGroup ? 3 : 2, background: gluColors[i] }} />
          <div style={{ position: "absolute", left: 1174, width: 45, top: 1179 + i * 32.3, textAlign: "right", fontSize: 17, lineHeight: "13px", fontWeight: i === boldGroup ? 700 : 400 }}>
            <div>{lab[0]}</div>
            <div>{lab[1]}</div>
          </div>
        </div>
      ))}

      <div style={{ ...capLine, top: 1468 }}>
        <b>FIGURE 6 | (A)</b> Mean spike rate (top), mean burst rate (middle) and mean number of activations per astrocyte (bottom) for varying maximum inhibitory (<YSym sign="−" size={17} italic />) and
      </div>
      <div style={{ ...capLine, top: 1493 }}>
        maximum excitatory synaptic weight (<YSym sign="+" size={17} italic />) of neurons for networks <span style={mono}>A–C</span> and their connectivity configurations <span style={mono}>CC 1, 2, 3</span>. The default values are indicated in bold. <b>(B)</b>
      </div>
      <div style={{ ...capLine, top: 1518 }}>
        Average glutamate amount in astrocytes when altering the inhibitory and excitatory synaptic weights. The black line resembled the activity from the default network <span style={mono}>B</span>,
      </div>
      <div style={{ ...capLine, top: 1544 }}>
        <span style={mono}>CC 1</span>. The brown lines represent the changes of <YSym sign="−" size={17} italic /> and the blue lines the changes in <YSym sign="+" size={17} italic />.
      </div>
    </div>
  );
}
